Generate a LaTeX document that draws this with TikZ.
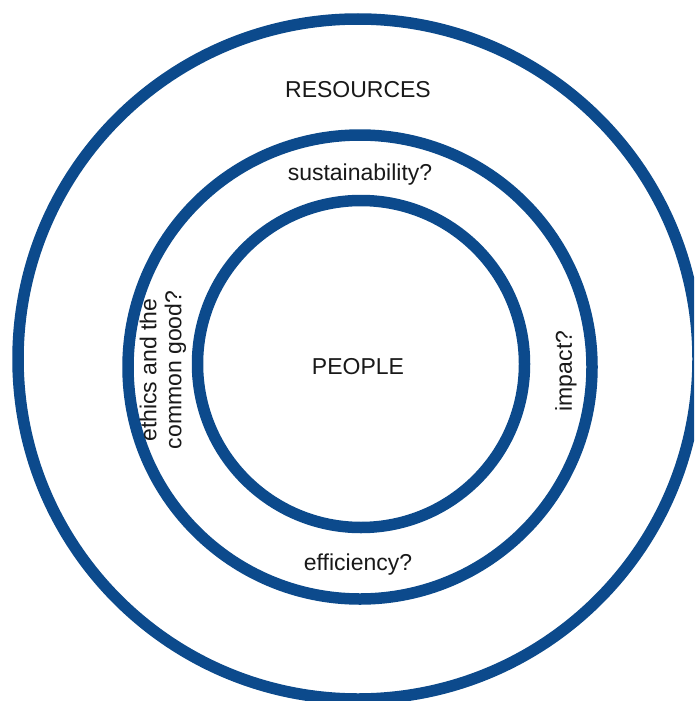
\documentclass[tikz,border=0pt]{standalone}
\usepackage{fontspec}
\setmainfont{Liberation Sans}
\definecolor{ringblue}{RGB}{12,74,140}
\definecolor{labelink}{RGB}{25,25,25}
\begin{document}
\begin{tikzpicture}[x=1pt,y=-1pt,
  ring/.style={draw=ringblue,line width=11.5pt,circle,inner sep=0pt},
  lbl/.style={text=labelink,font=\fontsize{23}{25}\selectfont,inner sep=0pt}]
\useasboundingbox (0,0) rectangle (694,701);
\clip (0,0) rectangle (694,701);
\fill[white] (0,0) rectangle (694,701);
\node[ring,minimum size=680pt] (outer) at (358,359) {};
\node[ring,minimum size=464pt] (middle) at (360,367) {};
\node[ring,minimum size=327pt] (inner) at (361,364) {};
\node[lbl,anchor=base] (resources) at (358,97) {RESOURCES};
\node[lbl,anchor=base] (sust) at (360,180) {sustainability?};
\node[lbl,anchor=base] (people) at (358,374) {PEOPLE};
\node[lbl,anchor=base] (eff) at (358,570) {efficiency?};
\node[lbl,rotate=90] (impact) at (566,371) {impact?};
\node[lbl,rotate=90,align=center] (ethics) at (163,370) {ethics and the\\common good?};
\end{tikzpicture}
\end{document}
